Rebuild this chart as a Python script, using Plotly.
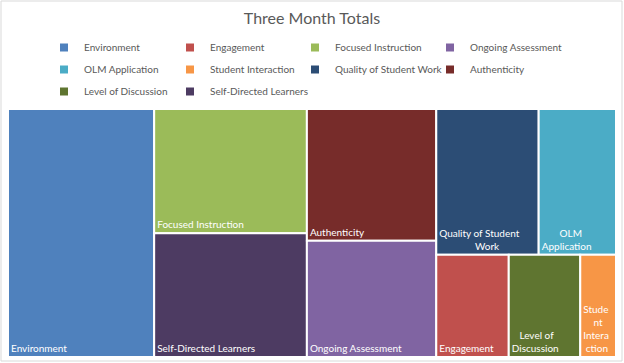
import plotly.graph_objects as go

NB = "\u00a0"

# Data
categories = ["Environment", "Engagement", "Focused Instruction", "Ongoing Assessment",
              "OLM Application", "Student Interaction", "Quality of Student Work",
              "Authenticity", "Level of Discussion", "Self-Directed Learners"]
totals = [357, 73, 187, 148, 111, 36, 147, 168, 72, 186]
display_text = ["Environment", "Engagement", "Focused Instruction", "Ongoing Assessment",
                NB * 7 + "OLM<br>Application",
                "Stude<br>" + NB * 4 + "nt<br>Intera<br>" + NB + "ction",
                "Quality of Student<br>" + NB * 14 + "Work",
                "Authenticity",
                NB * 3 + "Level of<br>Discussion",
                "Self-Directed Learners"]
colors = ["#4F81BD", "#C0504D", "#9BBB59", "#8064A2", "#4BACC6", "#F79646",
          "#2C4D75", "#772C2A", "#5F7530", "#4D3B62"]

fig = go.Figure()

fig.add_trace(go.Treemap(
    labels=categories,
    parents=[""] * len(categories),
    values=totals,
    text=display_text,
    texttemplate="%{text}",
    textposition="bottom left",
    textfont=dict(family="Lato", size=10, color="white"),
    marker=dict(colors=colors, line=dict(color="white", width=2),
                pad=dict(t=0, l=0, r=0, b=0)),
    tiling=dict(packing="squarify", squarifyratio=1, pad=0),
    pathbar=dict(visible=False),
    hoverinfo="label+value",
    sort=True,
))

# legend entries: four columns, filled row by row (4 per row)
legend_names = ["legend", "legend2", "legend3", "legend4"]
for i, (name, col) in enumerate(zip(categories, colors)):
    fig.add_trace(go.Scatter(
        x=[None], y=[None], mode="markers", name=name,
        marker=dict(symbol="square", size=8, color=col),
        hoverinfo="skip", showlegend=True,
        legend=legend_names[i % 4], legendgroup=name,
    ))

col_x = [44, 170, 295, 430]
legend_common = dict(orientation="v", xref="container", yref="container",
                     xanchor="left", y=1 - 33 / 363, yanchor="top",
                     font=dict(family="Lato", size=10, color="#595959"),
                     itemclick=False, itemdoubleclick=False, tracegroupgap=3,
                     bgcolor="rgba(0,0,0,0)")

fig.update_layout(
    width=624, height=363,
    margin=dict(l=8, r=8, t=109, b=6, autoexpand=False),
    paper_bgcolor="white", plot_bgcolor="white",
    title=dict(text="Three Month Totals", x=0.5, xanchor="center",
               y=1 - 18 / 363, yanchor="middle", yref="container",
               font=dict(family="Lato", size=16, color="#595959")),
    legend=dict(x=col_x[0] / 624, **legend_common),
    legend2=dict(x=col_x[1] / 624, **legend_common),
    legend3=dict(x=col_x[2] / 624, **legend_common),
    legend4=dict(x=col_x[3] / 624, **legend_common),
    xaxis=dict(visible=False), yaxis=dict(visible=False),
    shapes=[dict(type="rect", xref="paper", yref="paper",
                 x0=(1 - 8) / 608, x1=(622 - 8) / 608,
                 y0=(357 - 361) / 248, y1=(357 - 1) / 248,
                 line=dict(color="#D9D9D9", width=1), fillcolor="rgba(0,0,0,0)",
                 layer="below")],
)

fig.write_html("out.html", config={"displayModeBar": False},
               post_script="document.body.style.margin='0';")
